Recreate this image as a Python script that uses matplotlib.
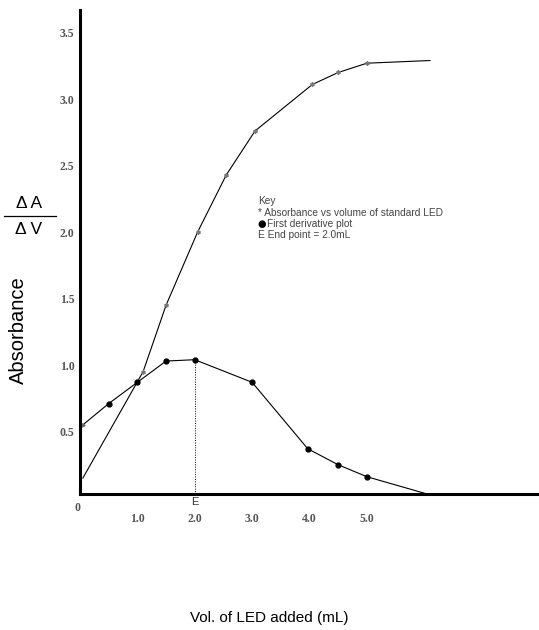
import matplotlib.pyplot as plt

# absorbance vs volume of standard LED
vol_abs = [0.05, 1.1, 1.5, 2.05, 2.55, 3.05, 4.05, 4.5, 5.0, 6.1]
absorb = [0.15, 0.95, 1.45, 2.0, 2.43, 2.76, 3.11, 3.2, 3.27, 3.29]

# first derivative plot
vol_der = [0.05, 0.5, 1.0, 1.5, 2.0, 3.0, 3.97, 4.5, 5.0, 6.05]
deriv = [0.55, 0.71, 0.87, 1.03, 1.04, 0.87, 0.37, 0.25, 0.16, 0.03]

xticks = [1, 2, 3, 4, 5]
xlabels = ['1.0', '2.0', '3.0', '4.0', '5.0']
yticks = [0.5, 1.0, 1.5, 2.0, 2.5, 3.0, 3.5]
ylabels = ['0.5', '1.0', '1.5', '2.0', '2.5', '3.0', '3.5']

fig = plt.figure(figsize=(5.39, 6.30), dpi=100)
ax = fig.add_axes([80/539, 1-494/630, 459/539, 484/630])

ax.plot(vol_abs, absorb, color='black', lw=0.8, marker=(6, 2, 0), ms=3,
        mec='#777777', markevery=list(range(1, 9)))
ax.plot(vol_der, deriv, color='black', lw=0.8, marker='o', ms=3.5,
        markevery=list(range(1, 9)))
ax.plot([0.05], [0.55], marker='>', ms=2.5, color='#666666')

# end point
ax.plot([2.0, 2.0], [0.03, 1.04], color='black', lw=0.7, ls=(0, (1, 1.5)))
ax.text(2.0, 0.01, 'E', ha='center', va='top', fontsize=8,
        family='Liberation Sans', color='#333333')

ax.set_xlim(0, 8.0)
ax.set_ylim(0.03, 3.67)
for s in ['top', 'right']:
    ax.spines[s].set_visible(False)
for s in ['left', 'bottom']:
    ax.spines[s].set_linewidth(2.2)

ax.set_xticks(xticks)
ax.set_xticklabels(xlabels)
ax.set_yticks(yticks)
ax.set_yticklabels(ylabels)
ax.tick_params(length=0, labelsize=8.5, labelcolor='#555555')
ax.tick_params(axis='x', pad=14)
ax.tick_params(axis='y', pad=4)
for lab in ax.get_xticklabels() + ax.get_yticklabels():
    lab.set_family('Liberation Serif')
    lab.set_fontweight('bold')
ax.text(-0.05, -0.03, '0', ha='center', va='top', fontsize=8.5,
        family='Liberation Serif', fontweight='bold', color='#555555')

# key
key = ['Key', '* Absorbance vs volume of standard LED',
       'First derivative plot', 'E End point = 2.0mL']
for i, t in enumerate(key):
    x = 267 if i == 2 else 258
    fig.text(x/539, 1-(201+i*11.5)/630, t, fontsize=7.3, color='#444444',
             family='Liberation Sans', va='center')
fig.text(262/539, 1-224/630, '\u25CF', fontsize=7, color='black',
         ha='center', va='center', family='DejaVu Sans')

fig.text(0.5, 1-618/630, 'Vol. of LED added (mL)', ha='center', va='center',
         fontsize=11, family='Liberation Sans')
fig.text(18/539, 1-330/630, 'Absorbance', rotation=90, ha='center',
         va='center', fontsize=14.5, family='Liberation Sans')

# delta A / delta V
fig.text(29/539, 1-204/630, '\u0394 A', ha='center', va='center', fontsize=12.5,
         family='Liberation Sans')
fig.text(29/539, 1-230/630, '\u0394 V', ha='center', va='center', fontsize=12.5,
         family='Liberation Sans')
fig.add_artist(plt.Line2D([4/539, 56/539], [1-216/630, 1-216/630],
                          color='black', lw=0.9))

fig.savefig('out.png', dpi=100)
